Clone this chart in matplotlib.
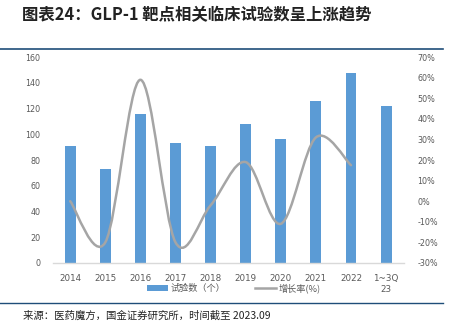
import matplotlib
matplotlib.use("Agg")
import matplotlib.pyplot as plt
from matplotlib.path import Path
from matplotlib.patches import PathPatch
from matplotlib.lines import Line2D
from matplotlib.patches import Patch
import numpy as np

plt.rcParams['font.family'] = ['Noto Sans CJK SC', 'DejaVu Sans']

categories = ['2014', '2015', '2016', '2017', '2018', '2019', '2020', '2021', '2022', '1~3Q\n23']
trials = [91, 73, 116, 93, 91, 108, 96, 126, 148, 122]
growth = [0, -20, 59, -20, -2, 19, -11, 31, 17.5]  # percent, 2014..2022

title = '图表24：GLP-1 靶点相关临床试验数呈上涨趋势'
source = '来源：医药魔方，国金证券研究所，时间截至 2023.09'
legend_labels = ['试验数（个）', '增长率(%)']

bar_color = '#5B9BD5'
line_color = '#A5A5A5'
text_color = '#595959'
rule_color = '#1F4E79'

fig = plt.figure(figsize=(4.5, 3.23), dpi=100)
ax = fig.add_axes([0.117, 0.186, 0.78, 0.637])
x = np.arange(len(categories))
ax.bar(x, trials, width=0.31, color=bar_color, zorder=2)
ax.set_xlim(-0.5, len(categories) - 0.5)
ax.set_ylim(0, 160)
ax.set_yticks(range(0, 161, 20))
ax.set_xticks(x)
ax.set_xticklabels(categories, fontsize=6.3, color=text_color, family=['DejaVu Sans'],
                   linespacing=1.3, va='top')
for lab in ax.get_yticklabels():
    lab.set_fontsize(5.8)
    lab.set_color(text_color)
    lab.set_family(['DejaVu Sans'])
ax.tick_params(axis='both', length=0)
ax.tick_params(axis='y', pad=9)
ax.tick_params(axis='x', pad=8)
for s in ['top', 'right', 'left']:
    ax.spines[s].set_visible(False)
ax.spines['bottom'].set_color('#D9D9D9')
ax.spines['bottom'].set_linewidth(1.0)

ax2 = ax.twinx()
ax2.set_ylim(-30, 70)
ax2.set_yticks(range(-30, 71, 10))
ax2.set_yticklabels([f'{v}%' for v in range(-30, 71, 10)], fontsize=5.8, color=text_color,
                    family=['DejaVu Sans'])
ax2.tick_params(axis='y', length=0, pad=10)
for s in ax2.spines.values():
    s.set_visible(False)

# smoothed line (Bezier through the data points, Excel-style smoothing)
gx = np.arange(len(growth), dtype=float)
gy = np.array(growth, dtype=float)
n = len(gx)
verts = [(gx[0], gy[0])]
codes = [Path.MOVETO]
t = 1.0 / 6.0
for i in range(n - 1):
    p0 = (gx[max(i - 1, 0)], gy[max(i - 1, 0)])
    p1 = (gx[i], gy[i])
    p2 = (gx[i + 1], gy[i + 1])
    p3 = (gx[min(i + 2, n - 1)], gy[min(i + 2, n - 1)])
    c1 = (p1[0] + (p2[0] - p0[0]) * t, p1[1] + (p2[1] - p0[1]) * t)
    c2 = (p2[0] - (p3[0] - p1[0]) * t, p2[1] - (p3[1] - p1[1]) * t)
    verts += [c1, c2, p2]
    codes += [Path.CURVE4] * 3
patch = PathPatch(Path(verts, codes), facecolor='none', edgecolor=line_color, lw=1.8,
                  capstyle='round', zorder=3)
ax2.add_patch(patch)

handles = [Patch(facecolor=bar_color, edgecolor='none'),
           Line2D([0], [0], color=line_color, lw=1.8)]
leg = fig.legend(handles, legend_labels, loc='center', bbox_to_anchor=(0.52, 0.108),
                 ncol=2, frameon=False, fontsize=6.6, handlelength=2.3, handleheight=0.55,
                 columnspacing=3.2, handletextpad=0.3)
for txt in leg.get_texts():
    txt.set_color(text_color)

fig.text(0.048, 0.952, title, fontsize=11.8, fontweight='bold', style='italic',
         color='#222222', va='center', ha='left')
fig.add_artist(Line2D([0.0, 0.985], [0.848, 0.848], color=rule_color, lw=1.2,
                      transform=fig.transFigure))
fig.add_artist(Line2D([0.0, 0.985], [0.063, 0.063], color=rule_color, lw=1.0,
                      transform=fig.transFigure))
fig.text(0.052, 0.024, source, fontsize=7.5, color='#222222', va='center', ha='left')

fig.savefig('out.png', dpi=100)
